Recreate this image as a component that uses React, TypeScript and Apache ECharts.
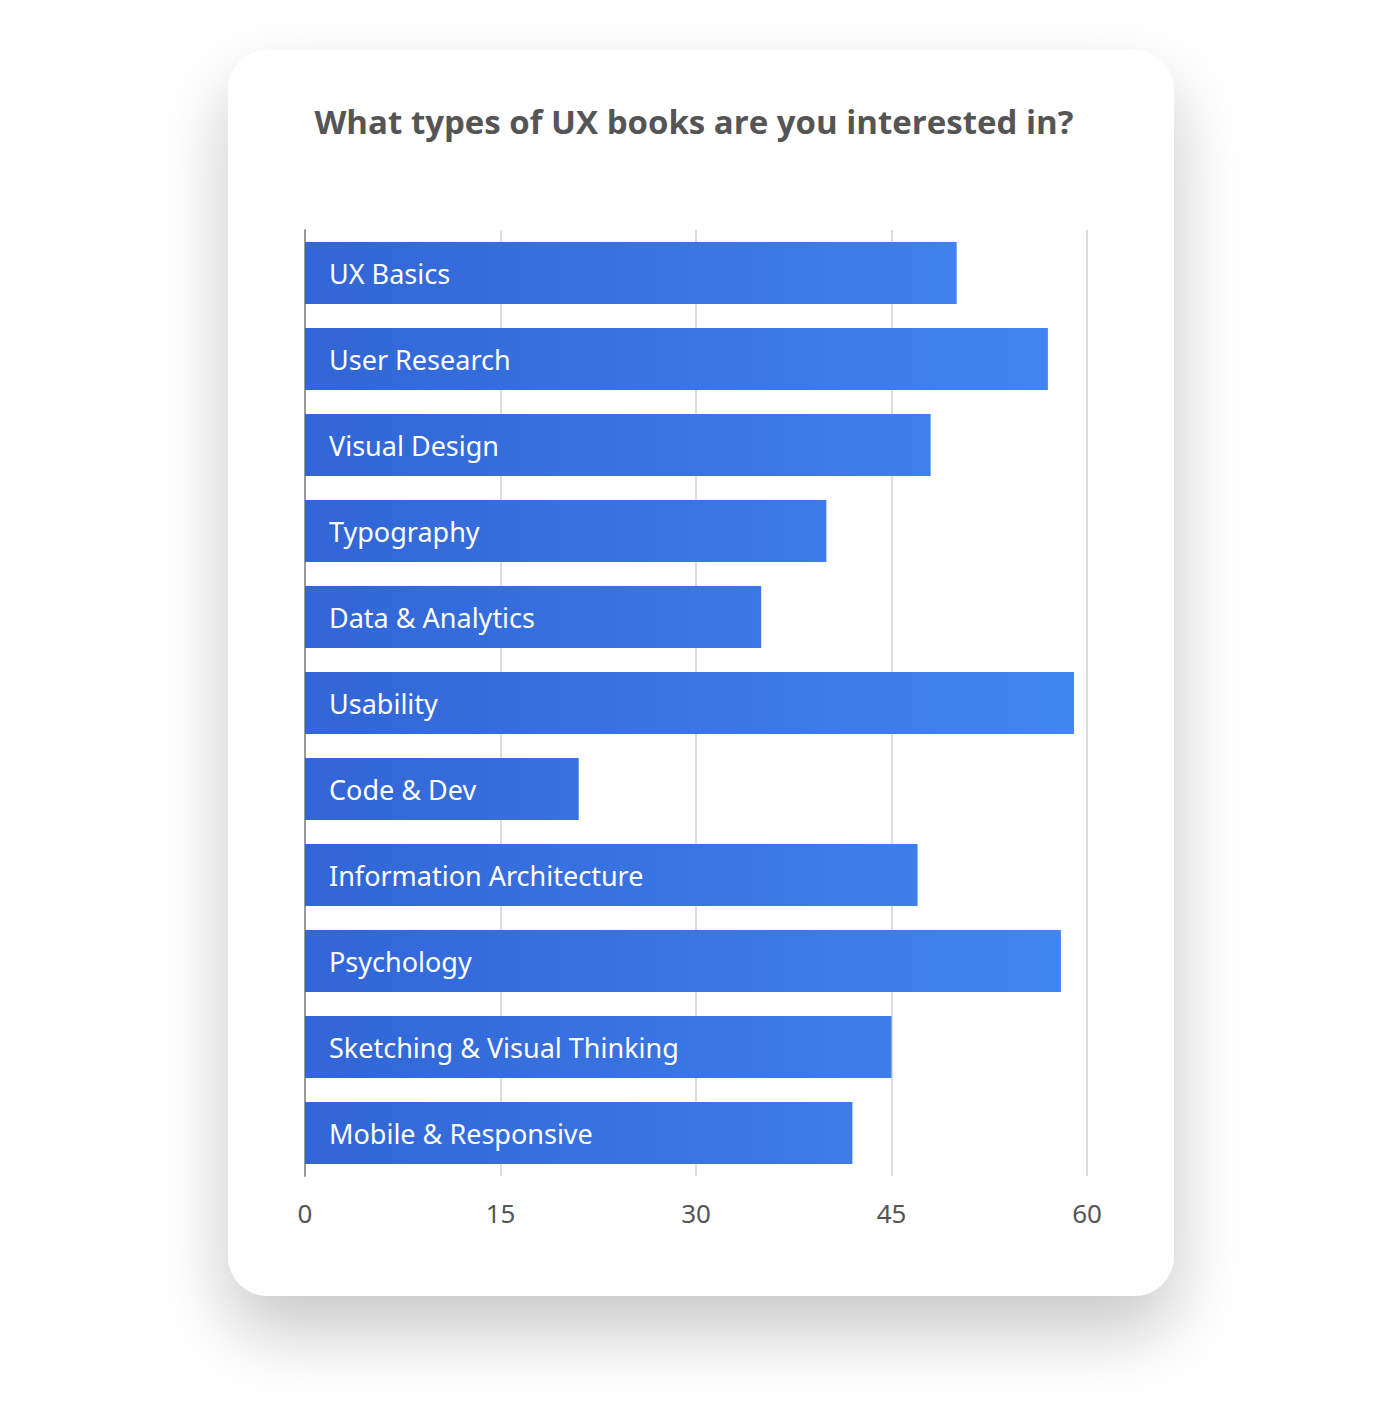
import React, { useEffect, useRef } from "react";
import * as echarts from "echarts";

const title = "What types of UX books are you interested in?";
const categories = [
  "UX Basics",
  "User Research",
  "Visual Design",
  "Typography",
  "Data & Analytics",
  "Usability",
  "Code & Dev",
  "Information Architecture",
  "Psychology",
  "Sketching & Visual Thinking",
  "Mobile & Responsive",
];
const values = [50, 57, 48, 40, 35, 59, 21, 47, 58, 45, 42];
const axisMin = 0;
const axisMax = 60;
const axisInterval = 15;

export default function App() {
  const ref = useRef<HTMLDivElement>(null);
  useEffect(() => {
    if (!ref.current) return;
    const chart = echarts.init(ref.current, null, { renderer: "svg" });
    chart.setOption({
      animation: false,
      backgroundColor: "#ffffff",
      graphic: [
        {
          type: "rect",
          z: -100,
          shape: { x: 228, y: 50, width: 946, height: 1246, r: 40 },
          style: {
            fill: "#ffffff",
            shadowBlur: 70,
            shadowColor: "rgba(0,0,0,0.22)",
            shadowOffsetY: 35,
          },
        },
        {
          type: "text",
          x: 694,
          y: 121,
          style: {
            text: title,
            fill: "#555555",
            font: "bold 33px 'Open Sans', sans-serif",
            textAlign: "center",
            textVerticalAlign: "middle",
          },
        },
      ],
      grid: { left: 305, width: 782, top: 230, height: 946, containLabel: false },
      xAxis: {
        type: "value",
        min: axisMin,
        max: axisMax,
        interval: axisInterval,
        axisLine: { show: false },
        axisTick: { show: false },
        splitLine: { show: true, lineStyle: { color: "#dddddd", width: 2 } },
        axisLabel: {
          color: "#555555",
          fontSize: 26,
          fontFamily: "'Noto Sans', sans-serif",
          margin: 24,
        },
      },
      yAxis: {
        type: "category",
        data: categories,
        inverse: true,
        axisLine: { show: true, lineStyle: { color: "#999999", width: 2 } },
        axisTick: { show: false },
        axisLabel: { show: false },
        splitLine: { show: false },
      },
      series: [
        {
          type: "bar",
          data: values,
          barWidth: 62,
          itemStyle: {
            color: new echarts.graphic.LinearGradient(
              305,
              0,
              1087,
              0,
              [
                { offset: 0, color: "#3265d6" },
                { offset: 1, color: "#4186f1" },
              ],
              true
            ),
          },
          label: {
            show: true,
            position: "insideLeft",
            distance: 24,
            formatter: (p: any) => categories[p.dataIndex],
            color: "#ffffff",
            fontSize: 27,
            fontFamily: "'Noto Sans', sans-serif",
          },
        },
      ],
    });
    return () => chart.dispose();
  }, []);
  return (
    <div
      ref={ref}
      style={{ position: "absolute", left: 0, top: 0, width: 1400, height: 1420 }}
    />
  );
}
